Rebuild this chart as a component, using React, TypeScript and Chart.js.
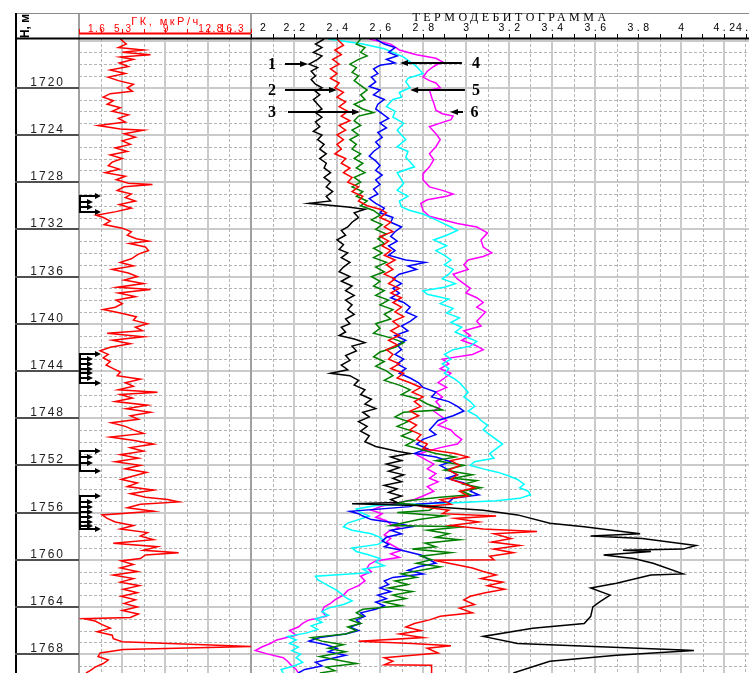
import React, { useEffect, useRef } from "react";
import { Chart, registerables } from "chart.js";

Chart.register(...registerables);

const WIDTH = 749;
const HEIGHT = 673;

// Depth window, m
const depthTop = 1715.87;
const depthBottom = 1769.6;
const depthLabels = [1720, 1724, 1728, 1732, 1736, 1740, 1744, 1748, 1752, 1756, 1760, 1764, 1768];

// Gamma log track (мкР/ч)
const gkTickValues = [1.6, 5.3, 9, 12.8, 16.3];
const gkTickLabels = ["1.6", "5.3", "9", "12.8", "16.3"];

// Thermal track tick labels
const thermoTickValues = [2.0, 2.2, 2.4, 2.6, 2.8, 3.0, 3.2, 3.4, 3.6, 3.8, 4.0, 4.2, 4.4];
const thermoTickLabels = ["2", "2.2", "2.4", "2.6", "2.8", "3", "3.2", "3.4", "3.6", "3.8", "4", "4.2", "4.4"];

// [depth, ГК]
const gkLog = [
  [1715.87, 5.13], [1716.3, 5.64], [1716.6, 4.96], [1716.8, 7.11], [1717.0, 5.30], [1717.2, 7.71], [1717.4, 5.13],
  [1717.6, 6.25], [1717.9, 5.04], [1718.2, 5.82], [1718.5, 4.27], [1718.8, 5.56], [1719.1, 4.10], [1719.4, 4.96],
  [1719.7, 6.25], [1720.0, 5.73], [1720.3, 6.16], [1720.5, 4.27], [1720.8, 3.67], [1721.1, 4.53], [1721.4, 4.01],
  [1721.7, 5.13], [1722.0, 4.44], [1722.3, 5.82], [1722.6, 4.96], [1722.9, 5.56], [1723.2, 3.23], [1723.5, 5.13],
  [1723.6, 7.11], [1723.9, 5.47], [1724.2, 6.42], [1724.5, 5.30], [1724.8, 5.99], [1725.1, 4.70], [1725.4, 5.73],
  [1725.7, 4.27], [1726.0, 5.30], [1726.3, 4.44], [1726.6, 4.10], [1726.9, 5.04], [1727.2, 3.84], [1727.5, 5.56],
  [1727.8, 4.78], [1728.1, 5.82], [1728.2, 7.88], [1728.4, 5.47], [1728.7, 4.87], [1729.0, 6.07], [1729.3, 5.56],
  [1729.6, 6.42], [1729.9, 5.04], [1730.2, 6.07], [1730.5, 4.78], [1730.8, 3.06], [1731.0, 3.67], [1731.3, 4.27],
  [1731.6, 3.75], [1731.9, 5.30], [1732.2, 6.07], [1732.5, 5.73], [1732.8, 6.50], [1733.0, 7.54], [1733.2, 5.90],
  [1733.5, 7.28], [1733.8, 7.54], [1734.1, 6.68], [1734.5, 6.07], [1734.8, 5.13], [1735.1, 6.25], [1735.4, 4.44],
  [1735.7, 5.82], [1736.0, 6.59], [1736.3, 5.47], [1736.6, 7.11], [1736.9, 4.87], [1737.1, 7.71], [1737.4, 4.96],
  [1737.7, 6.42], [1738.0, 4.78], [1738.3, 5.30], [1738.6, 4.70], [1738.8, 3.67], [1739.1, 5.13], [1739.4, 6.50],
  [1739.7, 6.25], [1740.0, 7.45], [1740.3, 6.42], [1740.6, 7.02], [1740.8, 4.01], [1741.1, 7.11], [1741.4, 4.44],
  [1741.7, 5.99], [1742.0, 4.27], [1742.3, 3.41], [1742.6, 4.10], [1742.9, 3.67], [1743.2, 4.27], [1743.5, 3.92],
  [1743.8, 4.53], [1744.1, 5.13], [1744.4, 4.87], [1744.7, 6.85], [1745.0, 5.56], [1745.3, 6.25], [1745.6, 4.96],
  [1745.8, 8.31], [1746.0, 5.13], [1746.3, 6.16], [1746.6, 4.70], [1746.9, 7.45], [1747.2, 5.64], [1747.5, 7.71],
  [1747.8, 5.99], [1748.1, 6.68], [1748.4, 4.35], [1748.7, 5.56], [1749.0, 6.25], [1749.3, 7.11], [1749.6, 4.27],
  [1749.9, 6.33], [1750.2, 7.97], [1750.5, 5.99], [1750.8, 7.11], [1751.1, 5.13], [1751.4, 6.68], [1751.7, 4.70],
  [1752.0, 6.85], [1752.3, 5.56], [1752.6, 7.37], [1752.9, 6.25], [1753.2, 5.21], [1753.5, 6.59], [1753.8, 5.73],
  [1754.1, 7.97], [1754.4, 5.99], [1754.7, 7.28], [1754.9, 9.17], [1755.1, 10.12], [1755.3, 6.85], [1755.6, 5.73],
  [1755.9, 7.97], [1756.2, 3.58], [1756.5, 4.01], [1756.8, 4.70], [1757.1, 6.25], [1757.4, 5.13], [1757.7, 7.45],
  [1758.0, 6.85], [1758.3, 7.97], [1758.6, 4.53], [1758.9, 8.31], [1759.2, 7.11], [1759.4, 10.12], [1759.6, 7.28],
  [1759.9, 6.85], [1760.1, 5.21], [1760.4, 6.25], [1760.7, 5.13], [1761.0, 6.59], [1761.3, 4.53], [1761.6, 6.25],
  [1761.9, 5.13], [1762.2, 6.76], [1762.5, 5.39], [1762.8, 6.59], [1763.1, 5.21], [1763.4, 6.42], [1763.7, 5.47],
  [1764.0, 6.59], [1764.3, 5.30], [1764.6, 6.68], [1764.9, 5.99], [1765.0, 2.03], [1765.2, 2.98], [1765.5, 3.58],
  [1765.8, 4.27], [1766.1, 3.15], [1766.4, 4.44], [1766.7, 4.53], [1766.95, 5.30], [1767.35, 16.31], [1767.6, 5.39],
  [1767.9, 3.41], [1768.2, 3.23], [1768.5, 4.10], [1768.8, 3.67], [1769.1, 2.98], [1769.4, 2.55], [1769.6, 2.20],
];

// Thermograms, runs 1..6: [depth, value]
const run1 = [
  [1715.87, 2.34], [1716.3, 2.30], [1716.6, 2.33], [1717.0, 2.29], [1717.3, 2.33], [1717.6, 2.31], [1718.0, 2.27],
  [1718.3, 2.31], [1718.6, 2.28], [1719.0, 2.30], [1719.3, 2.28], [1719.7, 2.30], [1720.0, 2.33], [1720.3, 2.30],
  [1720.6, 2.32], [1721.0, 2.29], [1721.4, 2.31], [1721.8, 2.33], [1722.1, 2.30], [1722.5, 2.33], [1722.9, 2.30],
  [1723.3, 2.32], [1723.7, 2.29], [1724.0, 2.33], [1724.4, 2.31], [1724.8, 2.34], [1725.2, 2.32], [1725.6, 2.35],
  [1726.0, 2.32], [1726.4, 2.35], [1726.8, 2.34], [1727.2, 2.37], [1727.6, 2.34], [1728.0, 2.37], [1728.4, 2.35],
  [1728.8, 2.38], [1729.2, 2.35], [1729.6, 2.37], [1729.8, 2.27], [1730.1, 2.45], [1730.3, 2.53], [1730.6, 2.48],
  [1731.0, 2.50], [1731.4, 2.47], [1731.8, 2.45], [1732.1, 2.42], [1732.5, 2.44], [1732.9, 2.40], [1733.3, 2.43],
  [1733.7, 2.41], [1734.0, 2.45], [1734.4, 2.42], [1734.8, 2.46], [1735.2, 2.43], [1735.6, 2.41], [1736.0, 2.46],
  [1736.4, 2.42], [1736.8, 2.47], [1737.2, 2.44], [1737.6, 2.48], [1738.0, 2.44], [1738.4, 2.47], [1738.8, 2.45],
  [1739.2, 2.48], [1739.6, 2.44], [1740.0, 2.46], [1740.3, 2.42], [1740.7, 2.44], [1741.0, 2.41], [1741.3, 2.48],
  [1741.6, 2.53], [1741.9, 2.47], [1742.3, 2.49], [1742.7, 2.44], [1743.1, 2.46], [1743.5, 2.42], [1743.9, 2.45],
  [1744.2, 2.37], [1744.4, 2.46], [1744.8, 2.50], [1745.2, 2.48], [1745.6, 2.53], [1746.0, 2.51], [1746.4, 2.56],
  [1746.8, 2.53], [1747.2, 2.58], [1747.5, 2.52], [1747.9, 2.55], [1748.3, 2.50], [1748.7, 2.54], [1749.1, 2.51],
  [1749.5, 2.55], [1750.0, 2.53], [1750.4, 2.58], [1750.8, 2.68], [1751.0, 2.74], [1751.3, 2.65], [1751.6, 2.70],
  [1751.9, 2.63], [1752.2, 2.69], [1752.5, 2.64], [1752.8, 2.71], [1753.1, 2.66], [1753.4, 2.70], [1753.7, 2.62],
  [1754.0, 2.68], [1754.3, 2.64], [1754.6, 2.70], [1754.9, 2.65], [1755.15, 2.68], [1755.25, 2.47], [1755.4, 2.77],
  [1755.8, 3.08], [1756.2, 3.24], [1756.9, 3.39], [1757.2, 3.55], [1757.8, 3.81], [1758.0, 3.58], [1758.2, 3.82],
  [1758.8, 4.07], [1759.1, 4.01], [1759.2, 3.73], [1759.3, 3.86], [1759.6, 3.64], [1759.9, 3.78], [1760.3, 3.87],
  [1761.2, 4.01], [1761.3, 3.86], [1762.0, 3.70], [1762.4, 3.58], [1763.0, 3.67], [1763.6, 3.62], [1764.0, 3.59],
  [1764.8, 3.58], [1765.4, 3.55], [1765.8, 3.31], [1766.5, 3.08], [1767.1, 3.24], [1767.65, 4.01], [1767.7, 4.06],
  [1768.1, 3.70], [1768.6, 3.39], [1769.6, 3.22],
];

const run2 = [
  [1715.87, 2.40], [1716.4, 2.43], [1716.8, 2.39], [1717.2, 2.42], [1717.6, 2.38], [1718.0, 2.41], [1718.4, 2.37],
  [1718.8, 2.40], [1719.2, 2.37], [1719.6, 2.41], [1720.0, 2.39], [1720.4, 2.43], [1720.8, 2.40], [1721.2, 2.44],
  [1721.6, 2.41], [1722.0, 2.45], [1722.4, 2.42], [1722.8, 2.46], [1723.2, 2.41], [1723.6, 2.44], [1724.0, 2.40],
  [1724.4, 2.43], [1724.8, 2.40], [1725.2, 2.42], [1725.6, 2.39], [1726.0, 2.44], [1726.4, 2.42], [1726.8, 2.46],
  [1727.2, 2.43], [1727.6, 2.47], [1728.0, 2.45], [1728.4, 2.50], [1728.8, 2.47], [1729.2, 2.52], [1729.6, 2.50],
  [1730.0, 2.54], [1730.3, 2.60], [1730.6, 2.63], [1731.0, 2.60], [1731.4, 2.65], [1731.8, 2.62], [1732.2, 2.66],
  [1732.6, 2.60], [1733.0, 2.64], [1733.4, 2.61], [1733.8, 2.65], [1734.2, 2.62], [1734.6, 2.67], [1735.0, 2.63],
  [1735.4, 2.66], [1735.8, 2.62], [1736.2, 2.67], [1736.6, 2.64], [1737.0, 2.69], [1737.4, 2.65], [1737.8, 2.70],
  [1738.2, 2.66], [1738.6, 2.70], [1739.0, 2.67], [1739.4, 2.71], [1739.8, 2.66], [1740.2, 2.69], [1740.6, 2.65],
  [1741.0, 2.69], [1741.4, 2.64], [1741.8, 2.68], [1742.2, 2.63], [1742.6, 2.66], [1743.0, 2.64], [1743.4, 2.69],
  [1743.8, 2.65], [1744.2, 2.71], [1744.6, 2.68], [1745.0, 2.74], [1745.4, 2.79], [1745.8, 2.75], [1746.2, 2.80],
  [1746.6, 2.76], [1747.0, 2.79], [1747.4, 2.74], [1747.8, 2.78], [1748.2, 2.73], [1748.6, 2.77], [1749.0, 2.74],
  [1749.4, 2.79], [1749.8, 2.77], [1750.2, 2.82], [1750.6, 2.80], [1751.0, 2.95], [1751.3, 3.01], [1751.6, 2.93],
  [1752.0, 2.97], [1752.4, 2.92], [1752.8, 2.96], [1753.2, 2.93], [1753.5, 2.98], [1753.9, 3.04], [1754.2, 2.97],
  [1754.6, 3.01], [1754.9, 2.88], [1755.3, 2.93], [1755.5, 2.80], [1755.8, 2.92], [1756.1, 2.89], [1756.3, 3.14],
  [1756.5, 2.95], [1756.8, 3.06], [1757.1, 2.93], [1757.4, 3.08], [1757.6, 3.33], [1757.8, 3.13], [1758.2, 3.21],
  [1758.5, 3.12], [1758.8, 3.25], [1759.1, 3.13], [1759.4, 3.22], [1759.7, 3.11], [1760.0, 3.13], [1760.05, 2.85],
  [1760.4, 2.95], [1760.7, 3.03], [1761.0, 3.08], [1761.3, 3.14], [1761.6, 3.07], [1761.9, 3.17], [1762.2, 3.10],
  [1762.5, 3.18], [1762.8, 3.09], [1763.1, 3.02], [1763.4, 2.99], [1763.8, 3.04], [1764.1, 2.97], [1764.5, 3.03],
  [1764.8, 2.88], [1765.1, 2.83], [1765.4, 2.76], [1765.7, 2.72], [1766.0, 2.79], [1766.3, 2.69], [1766.6, 2.80],
  [1766.9, 2.50], [1767.1, 2.75], [1767.3, 2.93], [1767.5, 2.82], [1767.9, 2.87], [1768.3, 2.62], [1768.6, 2.66],
  [1768.9, 2.62], [1768.95, 2.84], [1769.6, 2.84],
];

const run3 = [
  [1715.87, 2.51], [1716.3, 2.49], [1716.6, 2.53], [1717.0, 2.51], [1717.3, 2.54], [1717.6, 2.50], [1718.0, 2.46],
  [1718.3, 2.49], [1718.7, 2.47], [1719.0, 2.50], [1719.4, 2.48], [1719.8, 2.51], [1720.2, 2.54], [1720.6, 2.51],
  [1721.0, 2.53], [1721.4, 2.48], [1721.8, 2.52], [1722.1, 2.57], [1722.4, 2.50], [1722.8, 2.48], [1723.2, 2.51],
  [1723.6, 2.47], [1724.0, 2.50], [1724.4, 2.46], [1724.8, 2.49], [1725.2, 2.47], [1725.6, 2.51], [1726.0, 2.48],
  [1726.4, 2.52], [1726.8, 2.49], [1727.2, 2.53], [1727.6, 2.48], [1728.0, 2.51], [1728.4, 2.47], [1728.8, 2.52],
  [1729.2, 2.49], [1729.6, 2.54], [1730.0, 2.51], [1730.4, 2.57], [1730.8, 2.60], [1731.2, 2.56], [1731.6, 2.61],
  [1732.0, 2.58], [1732.4, 2.63], [1732.8, 2.59], [1733.2, 2.62], [1733.6, 2.57], [1734.0, 2.61], [1734.4, 2.57],
  [1734.8, 2.63], [1735.2, 2.58], [1735.6, 2.62], [1736.0, 2.56], [1736.4, 2.60], [1736.8, 2.57], [1737.2, 2.62],
  [1737.6, 2.58], [1738.0, 2.64], [1738.4, 2.60], [1738.8, 2.66], [1739.2, 2.62], [1739.6, 2.65], [1740.0, 2.58],
  [1740.4, 2.60], [1740.8, 2.57], [1741.2, 2.65], [1741.6, 2.71], [1742.0, 2.67], [1742.4, 2.60], [1742.8, 2.57],
  [1743.2, 2.62], [1743.6, 2.58], [1744.0, 2.63], [1744.4, 2.66], [1744.8, 2.62], [1745.2, 2.69], [1745.6, 2.74],
  [1746.0, 2.70], [1746.4, 2.78], [1746.8, 2.82], [1747.3, 2.89], [1747.5, 2.71], [1747.9, 2.67], [1748.3, 2.73],
  [1748.7, 2.68], [1749.1, 2.75], [1749.5, 2.70], [1749.9, 2.76], [1750.3, 2.72], [1750.7, 2.80], [1751.0, 2.86],
  [1751.3, 2.95], [1751.6, 2.86], [1752.0, 2.99], [1752.4, 2.90], [1752.8, 3.03], [1753.1, 2.94], [1753.3, 3.05],
  [1753.6, 2.99], [1753.9, 3.07], [1754.2, 2.98], [1754.5, 3.02], [1754.7, 2.88], [1755.0, 2.73], [1755.2, 2.68],
  [1755.5, 2.86], [1755.8, 2.83], [1756.0, 2.68], [1756.3, 2.90], [1756.6, 2.78], [1756.9, 2.70], [1757.1, 2.65],
  [1757.2, 2.99], [1757.5, 2.82], [1757.8, 2.92], [1758.1, 2.86], [1758.3, 2.97], [1758.6, 2.81], [1758.9, 2.86],
  [1759.1, 2.75], [1759.4, 2.93], [1759.7, 2.79], [1760.0, 2.84], [1760.3, 2.77], [1760.6, 2.88], [1760.9, 2.79],
  [1761.2, 2.70], [1761.5, 2.77], [1761.8, 2.67], [1762.1, 2.73], [1762.4, 2.64], [1762.7, 2.75], [1763.0, 2.66],
  [1763.3, 2.72], [1763.6, 2.62], [1763.9, 2.70], [1764.2, 2.52], [1764.5, 2.49], [1764.8, 2.52], [1765.1, 2.46],
  [1765.4, 2.51], [1765.7, 2.45], [1766.0, 2.49], [1766.3, 2.44], [1766.6, 2.28], [1766.9, 2.33], [1767.2, 2.43],
  [1767.5, 2.36], [1767.8, 2.44], [1768.2, 2.32], [1768.5, 2.40], [1768.8, 2.49], [1769.1, 2.35], [1769.4, 2.39],
  [1769.6, 2.32],
];

const run4 = [
  [1715.87, 2.58], [1716.3, 2.62], [1716.6, 2.67], [1717.0, 2.64], [1717.3, 2.68], [1717.6, 2.63], [1717.9, 2.67],
  [1718.1, 2.60], [1718.4, 2.57], [1718.8, 2.59], [1719.1, 2.56], [1719.5, 2.58], [1719.9, 2.55], [1720.2, 2.60],
  [1720.6, 2.57], [1721.0, 2.62], [1721.4, 2.59], [1721.8, 2.58], [1722.2, 2.61], [1722.6, 2.64], [1723.0, 2.60],
  [1723.4, 2.63], [1723.8, 2.59], [1724.2, 2.61], [1724.6, 2.58], [1725.0, 2.60], [1725.4, 2.57], [1725.8, 2.55],
  [1726.2, 2.58], [1726.6, 2.60], [1727.0, 2.58], [1727.4, 2.61], [1727.8, 2.58], [1728.2, 2.60], [1728.6, 2.57],
  [1729.0, 2.59], [1729.4, 2.55], [1729.8, 2.58], [1730.2, 2.62], [1730.6, 2.60], [1731.0, 2.66], [1731.4, 2.65],
  [1731.8, 2.70], [1732.2, 2.67], [1732.6, 2.65], [1733.0, 2.68], [1733.4, 2.64], [1733.8, 2.67], [1734.2, 2.64],
  [1734.6, 2.72], [1734.8, 2.81], [1735.1, 2.73], [1735.4, 2.77], [1735.8, 2.69], [1736.2, 2.66], [1736.6, 2.70],
  [1737.0, 2.66], [1737.4, 2.69], [1737.8, 2.65], [1738.2, 2.71], [1738.6, 2.74], [1739.0, 2.72], [1739.4, 2.77],
  [1739.8, 2.74], [1740.2, 2.70], [1740.6, 2.73], [1741.0, 2.67], [1741.4, 2.72], [1741.8, 2.68], [1742.2, 2.70],
  [1742.6, 2.67], [1743.0, 2.71], [1743.4, 2.68], [1743.8, 2.72], [1744.2, 2.69], [1744.6, 2.74], [1745.0, 2.78],
  [1745.4, 2.80], [1745.8, 2.86], [1746.2, 2.84], [1746.6, 2.92], [1747.0, 2.96], [1747.4, 2.99], [1747.8, 2.94],
  [1748.2, 2.87], [1748.6, 2.85], [1749.0, 2.83], [1749.4, 2.86], [1749.8, 2.80], [1750.2, 2.77], [1750.6, 2.82],
  [1751.0, 2.76], [1751.3, 2.86], [1751.7, 2.93], [1752.0, 2.88], [1752.4, 2.92], [1752.8, 2.96], [1753.1, 2.91],
  [1753.5, 2.99], [1753.9, 3.04], [1754.2, 3.02], [1754.5, 3.06], [1754.8, 2.94], [1755.1, 2.92], [1755.3, 2.77],
  [1755.5, 2.74], [1755.9, 2.46], [1756.1, 2.50], [1756.3, 2.52], [1756.6, 2.56], [1756.9, 2.68], [1757.2, 2.75],
  [1757.5, 2.65], [1757.8, 2.70], [1758.1, 2.63], [1758.4, 2.61], [1758.7, 2.64], [1758.9, 2.62], [1759.2, 2.70],
  [1759.6, 2.79], [1760.0, 2.83], [1760.3, 2.86], [1760.6, 2.78], [1760.9, 2.73], [1761.2, 2.80], [1761.5, 2.66],
  [1761.8, 2.62], [1762.1, 2.64], [1762.4, 2.60], [1762.7, 2.65], [1763.0, 2.59], [1763.3, 2.63], [1763.6, 2.58],
  [1763.9, 2.62], [1764.2, 2.58], [1764.5, 2.51], [1764.8, 2.53], [1765.1, 2.49], [1765.4, 2.51], [1765.7, 2.46],
  [1766.0, 2.50], [1766.3, 2.44], [1766.6, 2.32], [1766.9, 2.27], [1767.2, 2.35], [1767.5, 2.40], [1767.8, 2.36],
  [1768.1, 2.44], [1768.4, 2.37], [1768.7, 2.30], [1769.0, 2.33], [1769.3, 2.25], [1769.6, 2.22],
];

const run5 = [
  [1715.87, 2.36], [1716.1, 2.45], [1716.3, 2.52], [1716.7, 2.62], [1717.0, 2.66], [1717.4, 2.71], [1717.8, 2.74],
  [1718.2, 2.77], [1718.8, 2.80], [1719.2, 2.73], [1719.5, 2.72], [1720.0, 2.74], [1720.4, 2.69], [1720.8, 2.70],
  [1721.0, 2.66], [1721.6, 2.63], [1722.0, 2.67], [1722.5, 2.66], [1723.0, 2.71], [1723.6, 2.68], [1724.4, 2.72],
  [1725.0, 2.68], [1725.4, 2.73], [1725.9, 2.72], [1726.7, 2.76], [1727.2, 2.68], [1728.1, 2.71], [1728.7, 2.68],
  [1729.2, 2.73], [1729.6, 2.69], [1730.1, 2.70], [1730.4, 2.74], [1730.7, 2.80], [1731.2, 2.86], [1731.8, 2.93],
  [1732.1, 2.96], [1732.5, 2.91], [1732.9, 2.85], [1733.4, 2.91], [1733.8, 2.86], [1734.2, 2.90], [1734.6, 2.93],
  [1735.0, 2.90], [1735.4, 2.94], [1735.8, 2.92], [1736.2, 2.89], [1736.6, 2.95], [1736.9, 2.90], [1737.2, 2.80],
  [1737.5, 2.82], [1737.9, 2.92], [1738.3, 2.88], [1738.7, 2.94], [1739.1, 2.91], [1739.5, 2.97], [1739.9, 2.93],
  [1740.3, 2.98], [1740.7, 2.95], [1741.1, 3.00], [1741.5, 3.05], [1741.9, 3.02], [1742.2, 2.94], [1742.6, 2.90],
  [1743.0, 2.93], [1743.4, 2.89], [1743.8, 2.92], [1744.2, 2.90], [1744.6, 2.94], [1745.0, 2.97], [1745.4, 2.99],
  [1745.8, 3.01], [1746.2, 2.99], [1746.6, 3.02], [1747.0, 3.04], [1747.4, 3.01], [1747.8, 3.05], [1748.2, 3.07],
  [1748.6, 3.10], [1749.0, 3.08], [1749.4, 3.11], [1749.8, 3.14], [1750.2, 3.17], [1750.6, 3.14], [1751.0, 3.11],
  [1751.4, 3.13], [1751.7, 3.04], [1752.0, 3.02], [1752.3, 3.08], [1752.6, 3.15], [1752.9, 3.20], [1753.2, 3.24],
  [1753.6, 3.27], [1753.9, 3.25], [1754.2, 3.29], [1754.5, 3.30], [1754.8, 3.25], [1755.0, 3.14], [1755.2, 2.93],
  [1755.4, 2.58], [1755.7, 2.49], [1756.0, 2.51], [1756.3, 2.55], [1756.6, 2.50], [1756.9, 2.45], [1757.2, 2.43],
  [1757.5, 2.47], [1757.8, 2.56], [1758.1, 2.60], [1758.4, 2.62], [1758.7, 2.59], [1759.0, 2.47], [1759.3, 2.49],
  [1759.6, 2.55], [1759.9, 2.60], [1760.2, 2.58], [1760.5, 2.62], [1760.8, 2.52], [1761.1, 2.55], [1761.4, 2.30],
  [1761.7, 2.31], [1762.0, 2.34], [1762.3, 2.37], [1762.6, 2.40], [1762.9, 2.42], [1763.2, 2.44], [1763.5, 2.47],
  [1763.8, 2.43], [1764.1, 2.36], [1764.4, 2.33], [1764.7, 2.36], [1765.0, 2.30], [1765.3, 2.33], [1765.6, 2.28],
  [1765.9, 2.31], [1766.2, 2.26], [1766.5, 2.17], [1766.8, 2.21], [1767.1, 2.18], [1767.4, 2.22], [1767.7, 2.19],
  [1768.0, 2.23], [1768.3, 2.21], [1768.7, 2.24], [1769.0, 2.20], [1769.3, 2.14], [1769.6, 2.15],
];

const run6 = [
  [1715.87, 2.55], [1716.3, 2.65], [1716.8, 2.69], [1717.2, 2.77], [1717.5, 2.86], [1717.8, 2.89], [1718.2, 2.85],
  [1718.6, 2.82], [1719.1, 2.80], [1719.4, 2.83], [1719.6, 2.86], [1720.0, 2.88], [1720.2, 2.83], [1720.8, 2.84],
  [1721.3, 2.85], [1721.9, 2.86], [1722.2, 2.89], [1722.4, 2.94], [1722.7, 2.93], [1723.0, 2.88], [1723.3, 2.83],
  [1723.9, 2.86], [1724.4, 2.88], [1725.0, 2.86], [1725.6, 2.83], [1726.1, 2.85], [1726.7, 2.83], [1727.3, 2.80],
  [1727.8, 2.80], [1728.4, 2.83], [1728.7, 2.89], [1729.0, 2.94], [1729.2, 2.91], [1729.5, 2.82], [1729.8, 2.79],
  [1730.4, 2.80], [1730.9, 2.83], [1731.5, 2.96], [1731.8, 3.05], [1732.3, 3.10], [1732.9, 3.07], [1733.5, 3.08],
  [1734.0, 3.12], [1734.3, 3.08], [1734.6, 3.01], [1735.0, 2.99], [1735.4, 3.01], [1735.8, 2.94], [1736.2, 2.96],
  [1736.6, 2.99], [1737.0, 3.02], [1737.4, 3.00], [1737.8, 3.05], [1738.2, 3.08], [1738.6, 3.05], [1739.0, 3.09],
  [1739.4, 3.07], [1739.8, 3.05], [1740.2, 3.07], [1740.6, 2.99], [1741.0, 3.02], [1741.4, 2.98], [1741.8, 3.04],
  [1742.2, 3.08], [1742.6, 3.03], [1743.0, 2.89], [1743.4, 2.92], [1743.8, 2.88], [1744.2, 2.93], [1744.6, 2.90],
  [1745.0, 2.87], [1745.4, 2.91], [1745.8, 2.86], [1746.2, 2.89], [1746.6, 2.86], [1747.0, 2.88], [1747.4, 2.85],
  [1747.8, 2.88], [1748.2, 2.91], [1748.6, 2.87], [1749.0, 2.93], [1749.4, 2.95], [1749.8, 2.98], [1750.2, 2.96],
  [1750.5, 2.88], [1750.8, 2.82], [1751.1, 2.77], [1751.5, 2.81], [1751.9, 2.85], [1752.3, 2.82], [1752.7, 2.86],
  [1753.1, 2.83], [1753.4, 2.87], [1753.8, 2.82], [1754.2, 2.85], [1754.6, 2.80], [1754.9, 2.76], [1755.2, 2.68],
  [1755.5, 2.60], [1755.8, 2.56], [1756.1, 2.61], [1756.4, 2.58], [1756.7, 2.63], [1757.0, 2.65], [1757.3, 2.69],
  [1757.6, 2.64], [1757.9, 2.62], [1758.2, 2.65], [1758.5, 2.63], [1758.9, 2.67], [1759.2, 2.70], [1759.5, 2.65],
  [1759.8, 2.69], [1760.1, 2.58], [1760.4, 2.55], [1760.7, 2.54], [1761.0, 2.56], [1761.4, 2.51], [1761.8, 2.53],
  [1762.2, 2.50], [1762.6, 2.45], [1763.0, 2.43], [1763.4, 2.39], [1763.7, 2.37], [1764.0, 2.34], [1764.4, 2.33],
  [1764.8, 2.35], [1765.1, 2.27], [1765.4, 2.24], [1765.7, 2.22], [1766.0, 2.18], [1766.4, 2.21], [1766.8, 2.12],
  [1767.1, 2.09], [1767.4, 2.05], [1767.7, 2.02], [1768.0, 2.08], [1768.3, 2.15], [1768.6, 2.17], [1769.0, 2.19],
  [1769.3, 2.21], [1769.6, 2.22],
];

const runs = [run1, run2, run3, run4, run5, run6];
const runLabels = ["1", "2", "3", "4", "5", "6"];
const runColors = ["#000000", "#ff0000", "#008000", "#0000ff", "#00ffff", "#ff00ff"];

// Perforation intervals: arrow depths, m
const perforations = [
  [1729.15, 1729.66, 1730.08, 1730.56],
  [1742.57, 1743.02, 1743.44, 1743.86, 1744.2, 1744.63, 1745.0],
  [1750.76, 1751.27, 1751.78, 1752.46],
  [1754.58, 1755.08, 1755.5, 1755.93, 1756.36, 1756.78, 1757.14, 1757.42],
];

// Run number callouts: depth, text position, arrow start and tip (thermal units)
const callouts = [
  { label: "1", depth: 1717.99, text: 2.098, from: 2.158, to: 2.265 },
  { label: "2", depth: 1720.19, text: 2.098, from: 2.158, to: 2.4 },
  { label: "3", depth: 1722.06, text: 2.098, from: 2.172, to: 2.507 },
  { label: "4", depth: 1717.9, text: 3.047, from: 2.981, to: 2.693 },
  { label: "5", depth: 1720.19, text: 3.047, from: 2.995, to: 2.74 },
  { label: "6", depth: 1722.06, text: 3.04, from: 2.986, to: 2.926 },
];

const SANS = '"Liberation Sans", Arial, sans-serif';
const SERIF = '"Liberation Serif", "Times New Roman", serif';

// Layout of the log sheet
const FRAME_LEFT = 15;
const FRAME_TOP = 13;
const PLOT_LEFT = 79;
const PLOT_TOP = 39;
const CELL = 21.5; // px per grid division
const CELLS = (WIDTH - PLOT_LEFT) / CELL;

function seg(ctx: CanvasRenderingContext2D, x1: number, y1: number, x2: number, y2: number) {
  ctx.beginPath();
  ctx.moveTo(x1, y1);
  ctx.lineTo(x2, y2);
  ctx.stroke();
}

function arrow(ctx: CanvasRenderingContext2D, x1: number, y: number, x2: number, head: number, half: number) {
  const dir = Math.sign(x2 - x1) || 1;
  seg(ctx, x1, y, x2 - dir * (head - 1), y);
  ctx.beginPath();
  ctx.moveTo(x2, y);
  ctx.lineTo(x2 - dir * head, y - half);
  ctx.lineTo(x2 - dir * head, y + half);
  ctx.closePath();
  ctx.fill();
}

const logSheet = {
  id: "logSheet",
  beforeDraw(chart: any) {
    const ctx = chart.ctx;
    ctx.save();
    ctx.fillStyle = "#ffffff";
    ctx.fillRect(0, 0, chart.width, chart.height);
    ctx.restore();
  },
  beforeDatasetsDraw(chart: any) {
    const { ctx, chartArea: a } = chart;
    const xT = chart.scales.xT;
    const y = chart.scales.y;
    ctx.save();
    // metre grid
    for (let d = Math.ceil(depthTop); d <= depthBottom; d++) {
      const py = Math.round(y.getPixelForValue(d));
      if (d % 4 === 0) {
        ctx.strokeStyle = "#cacaca";
        ctx.lineWidth = 2;
        ctx.setLineDash([]);
        seg(ctx, a.left, py, a.right, py);
      } else {
        ctx.strokeStyle = "#b4b4b4";
        ctx.lineWidth = 1;
        ctx.setLineDash([3, 2]);
        seg(ctx, a.left, py + 0.5, a.right, py + 0.5);
      }
    }
    // value grid, 0.1 per division
    for (let k = 0; ; k++) {
      const v = 1.2 + k * 0.1;
      if (v > xT.max + 1e-6) break;
      const px = Math.round(xT.getPixelForValue(v));
      if (k % 2 === 0) {
        ctx.strokeStyle = "#cacaca";
        ctx.lineWidth = 2;
        ctx.setLineDash([]);
        seg(ctx, px, a.top, px, a.bottom);
      } else {
        ctx.strokeStyle = "#b4b4b4";
        ctx.lineWidth = 1;
        ctx.setLineDash([3, 2]);
        seg(ctx, px + 0.5, a.top, px + 0.5, a.bottom);
      }
    }
    ctx.setLineDash([]);
    // track borders
    ctx.strokeStyle = "#a0a0a0";
    ctx.lineWidth = 2;
    const gkRight = Math.round(xT.getPixelForValue(2.0));
    seg(ctx, PLOT_LEFT, FRAME_TOP, PLOT_LEFT, chart.height);
    seg(ctx, gkRight, FRAME_TOP, gkRight, chart.height);
    ctx.restore();
  },
  afterDatasetsDraw(chart: any) {
    const { ctx } = chart;
    const xT = chart.scales.xT;
    const xGK = chart.scales.xGK;
    const y = chart.scales.y;
    ctx.save();

    // outer frame
    ctx.strokeStyle = "#8a8a8a";
    ctx.lineWidth = 1;
    seg(ctx, FRAME_LEFT, FRAME_TOP + 0.5, WIDTH, FRAME_TOP + 0.5);
    ctx.strokeStyle = "#000000";
    ctx.lineWidth = 2;
    seg(ctx, FRAME_LEFT + 1, FRAME_TOP, FRAME_LEFT + 1, chart.height);
    seg(ctx, FRAME_LEFT, 38.5, WIDTH, 38.5);

    // depth column header
    ctx.save();
    ctx.translate(29, 26);
    ctx.rotate(-Math.PI / 2);
    ctx.fillStyle = "#000000";
    ctx.font = `bold 12px ${SANS}`;
    ctx.textAlign = "center";
    ctx.textBaseline = "alphabetic";
    ctx.fillText("Н, м", 0, 0);
    ctx.restore();

    // depth marks
    ctx.font = `12px ${SANS}`;
    ctx.fillStyle = "#222222";
    ctx.textAlign = "right";
    ctx.textBaseline = "alphabetic";
    (ctx as any).letterSpacing = "2px";
    for (const d of depthLabels) {
      const py = Math.round(y.getPixelForValue(d));
      ctx.strokeStyle = "#505050";
      ctx.lineWidth = 2;
      seg(ctx, FRAME_LEFT, py, PLOT_LEFT, py);
      ctx.fillText(String(d), 65, py - 2);
    }

    // GK axis
    const gk0 = xGK.getPixelForValue(gkTickValues[0]);
    const gk1 = xGK.getPixelForValue(gkTickValues[gkTickValues.length - 1]);
    ctx.strokeStyle = "#ff0000";
    ctx.fillStyle = "#ff0000";
    ctx.lineWidth = 2;
    seg(ctx, gk0, 33.5, gk1, 33.5);
    ctx.lineWidth = 1;
    for (let k = 0; k <= 8; k++) {
      const px = Math.round(gk0 + (k * (gk1 - gk0)) / 8) + 0.5;
      seg(ctx, px, 29, px, 33);
    }
    (ctx as any).letterSpacing = "2.5px";
    ctx.font = `11px ${SANS}`;
    ctx.textAlign = "center";
    ctx.fillText("ГК, мкР/ч", (gk0 + gk1) / 2 + 1, 25);
    (ctx as any).letterSpacing = "1.5px";
    ctx.font = `10px ${SANS}`;
    gkTickLabels.forEach((t, i) => {
      const px = xGK.getPixelForValue(gkTickValues[i]);
      if (i === 0) {
        ctx.textAlign = "left";
        ctx.fillText(t, px + 9, 32);
      } else if (i === gkTickLabels.length - 1) {
        ctx.textAlign = "right";
        ctx.fillText(t, px - 6, 32);
      } else {
        ctx.textAlign = "center";
        ctx.fillText(t, px + 1, 32);
      }
    });

    // thermal axis
    ctx.strokeStyle = "#000000";
    ctx.fillStyle = "#000000";
    ctx.lineWidth = 1;
    for (let k = 0; k <= 24; k++) {
      const px = Math.round(xT.getPixelForValue(2.0 + k * 0.1)) + 0.5;
      seg(ctx, px, 34, px, 38);
    }
    (ctx as any).letterSpacing = "3.5px";
    ctx.font = `12px ${SERIF}`;
    ctx.textAlign = "center";
    ctx.fillText("ТЕРМОДЕБИТОГРАММА", 511, 21);
    (ctx as any).letterSpacing = "3.5px";
    ctx.font = `10.5px ${SANS}`;
    thermoTickLabels.forEach((t, i) => {
      const px = xT.getPixelForValue(thermoTickValues[i]);
      if (i === 0) {
        ctx.textAlign = "left";
        ctx.fillText(t, px + 9, 31);
      } else if (i === thermoTickLabels.length - 1) {
        ctx.textAlign = "right";
        ctx.fillText(t, px - 6, 31);
      } else {
        ctx.textAlign = "center";
        ctx.fillText(t, px + 2, 31);
      }
    });
    (ctx as any).letterSpacing = "0px";

    // perforation marks
    ctx.strokeStyle = "#000000";
    ctx.fillStyle = "#000000";
    ctx.lineWidth = 2;
    for (const group of perforations) {
      const ys = group.map((d) => Math.round(y.getPixelForValue(d)));
      seg(ctx, PLOT_LEFT + 1, ys[0] - 1, PLOT_LEFT + 1, ys[ys.length - 1] + 1);
      ys.forEach((py, i) => {
        const long = i === 0 || i === ys.length - 1;
        arrow(ctx, PLOT_LEFT + 1, py, long ? 101 : 93, 6, 3);
      });
    }

    // run callouts
    ctx.font = `bold 16px ${SERIF}`;
    ctx.textAlign = "center";
    ctx.textBaseline = "middle";
    for (const c of callouts) {
      const py = Math.round(y.getPixelForValue(c.depth));
      ctx.fillText(c.label, xT.getPixelForValue(c.text), py + 1);
      arrow(ctx, xT.getPixelForValue(c.from), py, xT.getPixelForValue(c.to), 8, 3);
    }
    ctx.restore();
  },
};

const toPoints = (rows: number[][]) => rows.map(([d, v]) => ({ x: v, y: d }));

export default function App() {
  const ref = useRef<HTMLCanvasElement | null>(null);

  useEffect(() => {
    document.body.style.margin = "0";
    const canvas = ref.current;
    if (!canvas) return;
    const chart = new Chart(canvas, {
      type: "scatter",
      data: {
        datasets: [
          {
            label: "ГК",
            data: toPoints(gkLog),
            xAxisID: "xGK",
            yAxisID: "y",
            borderColor: "#ff0000",
            borderWidth: 1.5,
            showLine: true,
            pointRadius: 0,
          },
          ...runs.map((r, i) => ({
            label: runLabels[i],
            data: toPoints(r),
            xAxisID: "xT",
            yAxisID: "y",
            borderColor: runColors[i],
            borderWidth: 1.5,
            showLine: true,
            pointRadius: 0,
          })),
        ],
      },
      options: {
        animation: false,
        responsive: false,
        maintainAspectRatio: false,
        layout: { padding: { left: PLOT_LEFT, top: PLOT_TOP, right: 0, bottom: 0 } },
        plugins: { legend: { display: false }, tooltip: { enabled: false } },
        elements: { line: { tension: 0 }, point: { radius: 0 } },
        scales: {
          xT: { type: "linear", display: false, min: 1.2, max: 1.2 + CELLS * 0.1 },
          xGK: { type: "linear", display: false, min: 1.6, max: 1.6 + CELLS * ((16.3 - 1.6) / 8) },
          y: { type: "linear", display: false, reverse: true, min: depthTop, max: depthBottom },
        },
      } as any,
      plugins: [logSheet],
    });
    return () => chart.destroy();
  }, []);

  return (
    <div style={{ position: "absolute", left: 0, top: 0, width: WIDTH, height: HEIGHT, background: "#fff" }}>
      <canvas ref={ref} width={WIDTH} height={HEIGHT} style={{ display: "block" }} />
    </div>
  );
}
